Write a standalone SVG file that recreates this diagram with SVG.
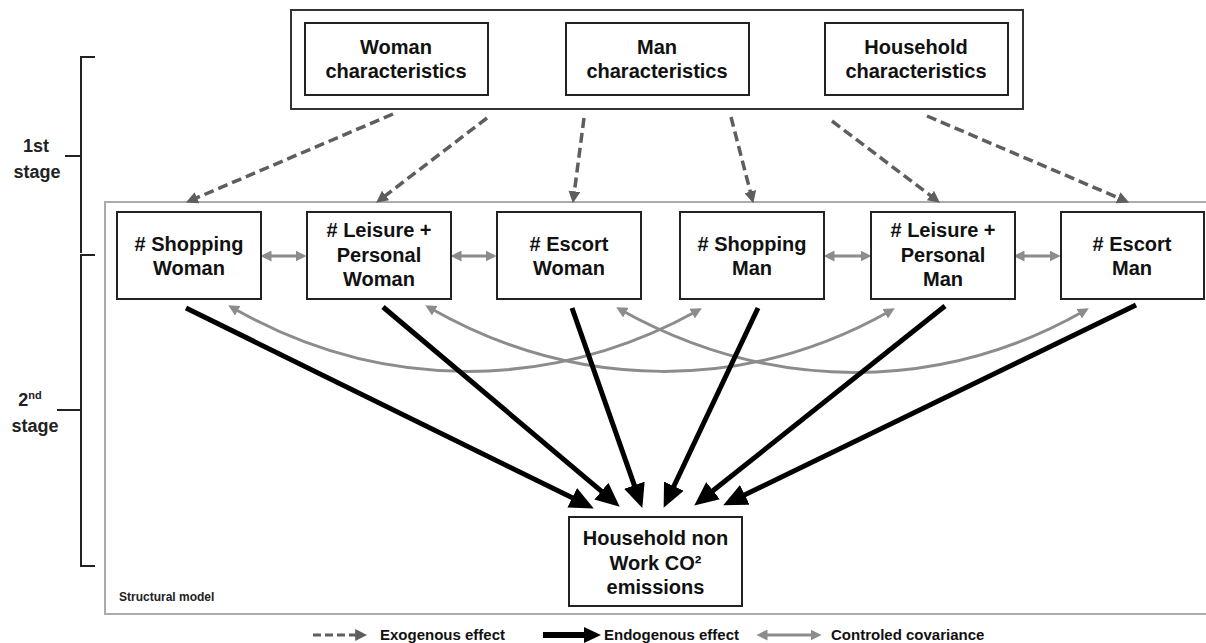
<svg xmlns="http://www.w3.org/2000/svg" width="1206" height="643" viewBox="0 0 1206 643">
<defs>
<style>
.box{fill:#fff;stroke:#222;stroke-width:2}
.nt{font-family:"Liberation Sans",Arial,sans-serif;font-weight:bold;font-size:20px;fill:#111;text-anchor:middle}
.lt{font-family:"Liberation Sans",Arial,sans-serif;font-weight:bold;font-size:15px;fill:#111}
.st{font-family:"Liberation Sans",Arial,sans-serif;font-weight:bold;font-size:18px;fill:#222;text-anchor:middle}
.exo{fill:none;stroke:#5e5e5e;stroke-width:3.5;stroke-dasharray:10 5;marker-end:url(#ah-exo)}
.endo{fill:none;stroke:#000;stroke-width:5;marker-end:url(#ah-endo)}
.cov{fill:none;stroke:#8c8c8c;stroke-width:3;marker-start:url(#ah-cov);marker-end:url(#ah-cov)}
</style>
<marker id="ah-exo" markerUnits="userSpaceOnUse" markerWidth="12" markerHeight="12" viewBox="0 0 10 10" refX="4" refY="5" orient="auto"><path d="M0,0 L10,5 L0,10 z" fill="#5e5e5e"/></marker>
<marker id="ah-endo" markerUnits="userSpaceOnUse" markerWidth="24" markerHeight="22" viewBox="0 0 22 20" refX="12" refY="10" orient="auto"><path d="M0,0 L22,10 L0,20 z" fill="#000"/></marker>
<marker id="ah-cov" markerUnits="userSpaceOnUse" markerWidth="11" markerHeight="11" viewBox="0 0 10 10" refX="5" refY="5" orient="auto-start-reverse"><path d="M0,0 L10,5 L0,10 z" fill="#8c8c8c"/></marker>
</defs>
<rect width="1206" height="643" fill="#fff"/>

<!-- stage brackets -->
<g id="brackets" fill="none" stroke="#222" stroke-width="2">
<path d="M95,57 H81 V253 M65,156 H81 M95,255 H81 V566 H95 M57,410 H81"/>
</g>
<g id="stage-labels">
<text class="st" x="36" y="152">1st</text>
<text class="st" x="37" y="178">stage</text>
<text class="st" x="30" y="406">2<tspan font-size="11" dy="-7">nd</tspan></text>
<text class="st" x="35" y="432">stage</text>
</g>

<!-- structural model frame -->
<g id="structural-model">
<rect x="105" y="202" width="1110" height="412" fill="none" stroke="#ababab" stroke-width="2"/>
<text x="119" y="601" font-family="'Liberation Sans',Arial,sans-serif" font-weight="bold" font-size="12" fill="#222">Structural model</text>
</g>

<!-- exogenous block -->
<g id="exogenous-group">
<rect x="291" y="10" width="732" height="99" fill="#fff" stroke="#333" stroke-width="2"/>
</g>
<g id="node-woman-char">
<rect class="box" x="305" y="23" width="183" height="72"/>
<text class="nt" x="396" y="54">Woman</text>
<text class="nt" x="396" y="78">characteristics</text>
</g>
<g id="node-man-char">
<rect class="box" x="566" y="23" width="183" height="72"/>
<text class="nt" x="657" y="54">Man</text>
<text class="nt" x="657" y="78">characteristics</text>
</g>
<g id="node-household-char">
<rect class="box" x="825" y="23" width="183" height="72"/>
<text class="nt" x="916" y="54">Household</text>
<text class="nt" x="916" y="78">characteristics</text>
</g>

<!-- connectors -->
<g id="connectors">
<line class="exo" x1="393" y1="114" x2="192.5" y2="199.6"/>
<line class="exo" x1="487" y1="118" x2="381.8" y2="198.4"/>
<line class="exo" x1="584" y1="118" x2="573.8" y2="196"/>
<line class="exo" x1="731" y1="117" x2="751.5" y2="196.2"/>
<line class="exo" x1="832" y1="121" x2="934.2" y2="198.4"/>
<line class="exo" x1="927" y1="116" x2="1122.5" y2="199.6"/>

<line class="cov" x1="266" y1="256" x2="301" y2="256"/>
<line class="cov" x1="456" y1="256" x2="491" y2="256"/>
<line class="cov" x1="829" y1="256" x2="866" y2="256"/>
<line class="cov" x1="1019" y1="256" x2="1055" y2="256"/>

<path class="cov" d="M233,308 C380,392 550,392 697,311"/>
<path class="cov" d="M430,308 C577,392 747,392 890,311"/>
<path class="cov" d="M621,310 C770,393 940,393 1084,311"/>

<line class="endo" x1="186" y1="308" x2="584" y2="503.6"/>
<line class="endo" x1="383" y1="307" x2="611.4" y2="499.6"/>
<line class="endo" x1="572" y1="308" x2="638.7" y2="497.6"/>
<line class="endo" x1="758" y1="308" x2="668.3" y2="498"/>
<line class="endo" x1="945" y1="306" x2="702.8" y2="498.8"/>
<line class="endo" x1="1136" y1="305" x2="733" y2="500.6"/>
</g>

<!-- activity nodes -->
<g id="node-shopping-woman">
<rect class="box" x="117" y="212" width="144" height="87"/>
<text class="nt" x="189" y="251"># Shopping</text>
<text class="nt" x="189" y="275">Woman</text>
</g>
<g id="node-leisure-woman">
<rect class="box" x="307" y="212" width="144" height="87"/>
<text class="nt" x="379" y="237"># Leisure +</text>
<text class="nt" x="379" y="262">Personal</text>
<text class="nt" x="379" y="286">Woman</text>
</g>
<g id="node-escort-woman">
<rect class="box" x="497" y="212" width="144" height="87"/>
<text class="nt" x="569" y="251"># Escort</text>
<text class="nt" x="569" y="275">Woman</text>
</g>
<g id="node-shopping-man">
<rect class="box" x="680" y="212" width="144" height="87"/>
<text class="nt" x="752" y="251"># Shopping</text>
<text class="nt" x="752" y="275">Man</text>
</g>
<g id="node-leisure-man">
<rect class="box" x="871" y="212" width="144" height="87"/>
<text class="nt" x="943" y="237"># Leisure +</text>
<text class="nt" x="943" y="262">Personal</text>
<text class="nt" x="943" y="286">Man</text>
</g>
<g id="node-escort-man">
<rect class="box" x="1061" y="212" width="143" height="87"/>
<text class="nt" x="1132" y="251"># Escort</text>
<text class="nt" x="1132" y="275">Man</text>
</g>
<g id="node-household-co2">
<rect class="box" x="569" y="517" width="173" height="89"/>
<text class="nt" x="655.5" y="545">Household non</text>
<text class="nt" x="655.5" y="570">Work CO²</text>
<text class="nt" x="655.5" y="594">emissions</text>
</g>

<!-- legend -->
<g id="legend">
<line x1="313" y1="635" x2="360" y2="635" stroke="#5e5e5e" stroke-width="3" stroke-dasharray="8 4" marker-end="url(#ah-exo)"/>
<text class="lt" x="380" y="640">Exogenous effect</text>
<line x1="543" y1="635" x2="586" y2="635" stroke="#000" stroke-width="6"/>
<path d="M584,627 L601,635 L584,643 z" fill="#000"/>
<text class="lt" x="604" y="640">Endogenous effect</text>
<line class="cov" x1="762" y1="635" x2="816" y2="635"/>
<text class="lt" x="831" y="640">Controled covariance</text>
</g>
</svg>
